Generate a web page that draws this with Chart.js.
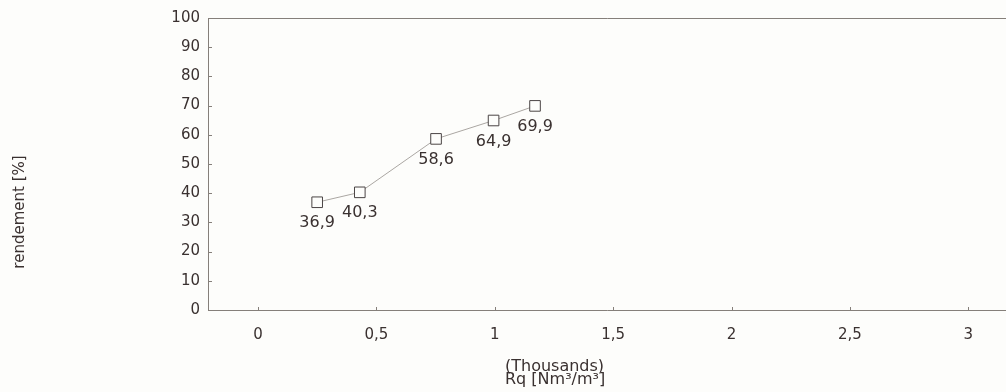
<!DOCTYPE html>
<html>
<head>
<meta charset="utf-8">
<script src="https://cdn.jsdelivr.net/npm/chart.js@4"></script>
<style>
  html, body { margin: 0; padding: 0; background: #fdfdfb; }
  #wrap { width: 1006px; height: 392px; position: relative; }
</style>
</head>
<body>
<div id="wrap"><canvas id="rendement_chart"></canvas></div>
<script>
// Rq in thousands of Nm3/m3, rendement in %
const rq_values = [0.25, 0.43, 0.752, 0.995, 1.17];
const rendement_values = [36.9, 40.3, 58.6, 64.9, 69.9];
const x_ticks = [0, 0.5, 1, 1.5, 2, 2.5, 3];
const y_ticks = [0, 10, 20, 30, 40, 50, 60, 70, 80, 90, 100];
const y_title = "rendement [%]";
const x_title = ["(Thousands)", "Rq [Nm\u00b3/m\u00b3]"];

const ink = "#3a3130";
const family = "'DejaVu Sans', Verdana, sans-serif";
const font = { family: family, size: 15 };

const points = rq_values.map((x, i) => ({ x: x, y: rendement_values[i] }));

const commaNum = (v) => String(v).replace(".", ",");

// frame, inward tick marks, value labels and axis titles
const framePlugin = {
  id: "frame",
  afterDraw(chart) {
    const ctx = chart.ctx;
    const a = chart.chartArea;
    const xs = chart.scales.x;
    const ys = chart.scales.y;
    ctx.save();
    ctx.strokeStyle = "#857f7a";
    ctx.lineWidth = 1;
    ctx.beginPath();
    ctx.moveTo(a.left + 0.5, a.bottom + 0.5);
    ctx.lineTo(a.left + 0.5, a.top + 0.5);
    ctx.lineTo(chart.width, a.top + 0.5);
    ctx.moveTo(a.left + 0.5, a.bottom + 0.5);
    ctx.lineTo(chart.width, a.bottom + 0.5);
    y_ticks.forEach((v) => {
      const py = Math.round(ys.getPixelForValue(v)) + 0.5;
      ctx.moveTo(a.left, py);
      ctx.lineTo(a.left + 4, py);
    });
    x_ticks.forEach((v) => {
      const px = Math.round(xs.getPixelForValue(v)) + 0.5;
      ctx.moveTo(px, a.bottom - 3);
      ctx.lineTo(px, a.bottom + 1);
    });
    ctx.stroke();

    ctx.fillStyle = ink;
    ctx.font = "16px " + family;
    ctx.textAlign = "center";
    ctx.textBaseline = "middle";
    const meta = chart.getDatasetMeta(0);
    meta.data.forEach((pt, i) => {
      ctx.fillText(commaNum(rendement_values[i]), pt.x, pt.y + 21);
    });

    ctx.textAlign = "left";
    ctx.fillText(x_title[0], 505, 367);
    ctx.fillText(x_title[1], 505, 380);

    ctx.font = "15px " + family;
    ctx.translate(20, 212);
    ctx.rotate(-Math.PI / 2);
    ctx.textAlign = "center";
    ctx.fillText(y_title, 0, 0);
    ctx.restore();
  },
};

const rendement_config = {
  type: "scatter",
  data: {
    datasets: [
      {
        data: points,
        showLine: true,
        borderColor: "#aaa6a2",
        borderWidth: 1,
        pointStyle: "rect",
        pointRadius: 7.5,
        pointBackgroundColor: "#fdfdfb",
        pointBorderColor: "#4a4444",
        pointBorderWidth: 1,
      },
    ],
  },
  options: {
    responsive: true,
    maintainAspectRatio: false,
    animation: false,
    layout: { padding: { top: 18, right: 0, left: 0, bottom: 0 } },
    plugins: {
      legend: { display: false },
      tooltip: { enabled: false },
    },
    scales: {
      x: {
        type: "linear",
        min: -0.211,
        max: 3.123,
        grid: { display: false, drawTicks: false },
        border: { display: false },
        afterBuildTicks: (scale) => {
          scale.ticks = x_ticks.map((v) => ({ value: v }));
        },
        afterFit: (scale) => {
          scale.height = 82;
        },
        ticks: {
          color: ink,
          font: font,
          padding: 16,
          maxRotation: 0,
          callback: (v) => commaNum(v),
        },
      },
      y: {
        min: 0,
        max: 100,
        grid: { display: false, drawTicks: false },
        border: { display: false },
        afterBuildTicks: (scale) => {
          scale.ticks = y_ticks.map((v) => ({ value: v }));
        },
        afterFit: (scale) => {
          scale.width = 208;
        },
        ticks: {
          color: ink,
          font: font,
          padding: 8,
        },
      },
    },
  },
  plugins: [framePlugin],
};

const rendement_chart = new Chart(
  document.getElementById("rendement_chart"),
  rendement_config
);
</script>
</body>
</html>
